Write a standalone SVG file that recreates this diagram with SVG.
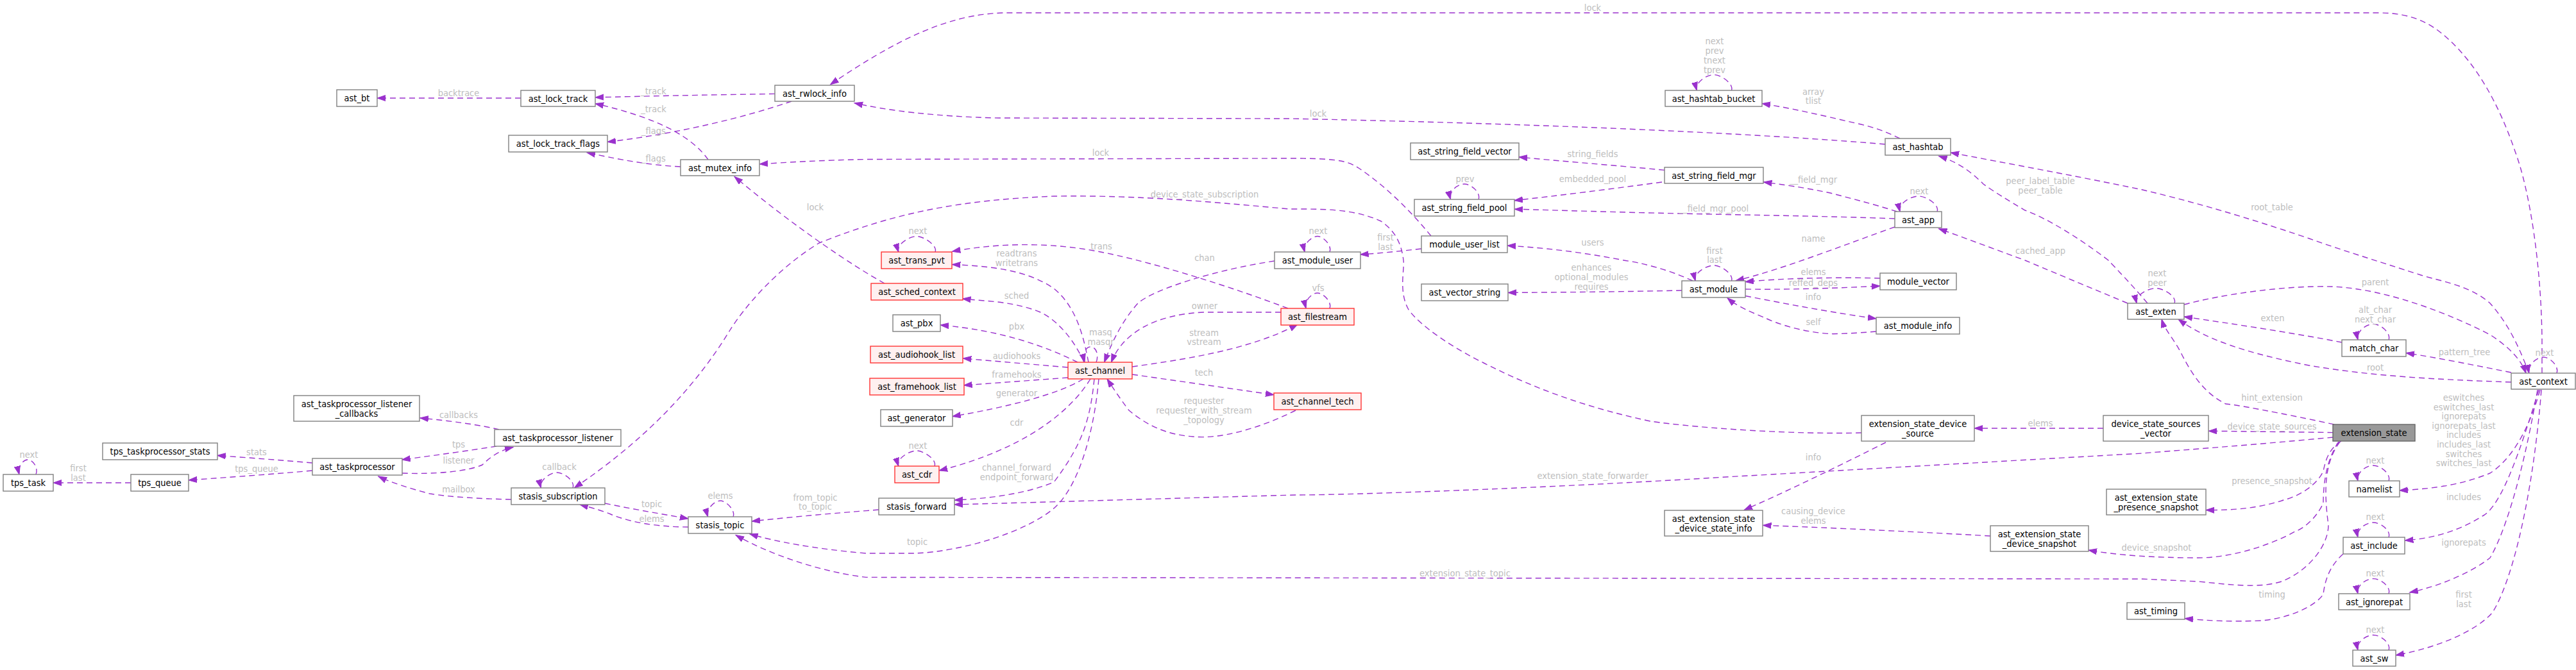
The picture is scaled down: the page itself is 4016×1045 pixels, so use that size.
<svg xmlns="http://www.w3.org/2000/svg" width="4016" height="1045" viewBox="0 0 4016 1045">
<defs>
<style>
rect.n{fill:#ffffff;stroke:#808080;stroke-width:1.4}
rect.r{fill:#fff0f0;stroke:#ff3333;stroke-width:1.4}
rect.g{fill:#999999;stroke:#666666;stroke-width:1.4}
text{font-family:"DejaVu Sans Condensed","DejaVu Sans",sans-serif;font-stretch:condensed;font-size:14.5px;text-anchor:middle}
text.t{fill:#000000}
text.l{fill:#bdbdbd}
#edges path{fill:none;stroke:#9a32cd;stroke-width:1.4;stroke-dasharray:9,6;marker-end:url(#a)}
</style>
<marker id="a" markerWidth="15" markerHeight="11" refX="13" refY="5" orient="auto" markerUnits="userSpaceOnUse"><path d="M0,0.5 L13,5 L0,9.5 z" fill="#9a32cd" stroke="#9a32cd" stroke-width="1" stroke-dasharray="none"/></marker>
</defs>
<rect width="4016" height="1045" fill="#ffffff"/>
<g id="edges">
<path d="M812,153 L588,153"/>
<path d="M1208,146.4 C1100,148 1000,150 928,152"/>
<path d="M1104,249 C1080,215 1030,185 928,161.6"/>
<path d="M1234,158 C1160,183 1060,208 947,221.4"/>
<path d="M1061,260 C1020,258 980,252 915,238"/>
<path d="M3963,582 L3963,530 C3962,420 3945,300 3921,236 C3895,160 3860,100 3817,61 C3790,36 3760,20 3708,20 L1565,20 C1480,22 1400,60 1294.5,131.8"/>
<path d="M2939,225 C2800,213 2500,195 2010,185 L1557,184 C1460,182 1380,172 1332,160.6"/>
<path d="M2231,368 C2200,330 2160,290 2118,262 C2100,250 2080,247 2010,247 L1350,248.5 C1280,250 1230,253 1184,256"/>
<path d="M1379,442 C1330,415 1240,355 1145,275.5"/>
<path d="M2902,675 C2800,678 2650,668 2573,657 C2480,637 2400,610 2313,566 C2270,545 2215,510 2196,483 C2180,455 2190,420 2188,406 C2185,380 2175,360 2153,345 C2110,325 2060,326 2010,326 C1900,316 1780,304 1643,306 C1500,312 1400,330 1277,379 C1210,420 1160,480 1138,515 C1080,610 1000,690 895.5,760.8"/>
<path d="M2008,481 C1900,440 1780,405 1716,393 C1640,378 1560,378 1484.4,392.2"/>
<path d="M1697,565 C1690,530 1680,480 1643,450 C1600,420 1540,415 1484.4,412.5"/>
<path d="M1690,565 C1670,520 1640,495 1622,487 C1580,470 1540,470 1500.5,466"/>
<path d="M1680,565 C1630,540 1560,515 1466,507"/>
<path d="M1665,573 L1501.3,559"/>
<path d="M1665,589 L1502.6,601"/>
<path d="M1689,591 C1650,615 1570,635 1484.8,649.5"/>
<path d="M1700,591 C1670,640 1600,700 1464,734"/>
<path d="M1706,591 C1700,650 1690,690 1643,752 C1600,770 1540,778 1488,780"/>
<path d="M1713,591 C1705,680 1680,760 1644,792 C1600,830 1500,860 1427,863 L1350,863 C1270,856 1210,845 1168.7,832.8"/>
<path d="M1987,407 C1900,420 1800,450 1774,473 C1750,500 1735,530 1721.6,565"/>
<path d="M1997,487 L1878,487 C1800,490 1750,520 1732.5,565"/>
<path d="M1765,572 C1850,560 1950,545 2023,506"/>
<path d="M1765,584 L1986,615.7"/>
<path d="M2020,640 C1960,670 1900,685 1860,681 C1820,678 1790,665 1760,640 C1745,620 1735,605 1726,591"/>
<path d="M1709,565 C1713,555 1710,541 1700,541 C1692,541 1688,553 1691,565"/>
<path d="M487,722 C440,718 390,714 338.7,710.4"/>
<path d="M487,734 C420,740 360,744 294,749"/>
<path d="M204,753 L83,753"/>
<path d="M778,670 C750,663 700,656 654.8,652"/>
<path d="M774,696 C730,703 680,710 626.6,717"/>
<path d="M626.6,738 C680,740 730,735 752,725 C765,712 780,702 800,697.6"/>
<path d="M797,779 C750,778 700,775 670,770 C640,762 610,753 589.8,743"/>
<path d="M943,785 C990,795 1040,803 1073,809"/>
<path d="M1073,822 C1040,822 990,818 952,802 C935,795 915,790 904,787"/>
<path d="M1370,795 L1350,796.6 C1280,802 1220,808 1172,813"/>
<path d="M3648,689 C3625,720 3622,760 3630,819 C3630,850 3600,890 3557,907 C3520,918 3480,912 3427,907 L3340,903 L1350,900.4 C1280,892 1200,865 1147,834.5"/>
<path d="M3637.5,682 C3500,695 3400,702 3340,707 L2690,744 C2400,762 2100,772 2020,772 C1800,778 1600,784 1488,787"/>
<path d="M3639,662 C3560,645 3480,630 3470,630 C3440,615 3420,590 3400,550 C3390,530 3375,515 3370,498"/>
<path d="M3915,596 C3800,592 3700,587 3600,570 C3500,550 3440,530 3396,498"/>
<path d="M3405,475 C3460,460 3560,445 3635,447 C3720,450 3820,490 3882,522 C3910,540 3930,560 3938,582"/>
<path d="M3651,534 C3580,520 3480,505 3405,494"/>
<path d="M3915,581 C3860,570 3800,558 3751,550.5"/>
<path d="M3943,582 C3930,550 3915,510 3882,473 C3850,445 3810,440 3774,429 C3700,405 3650,390 3600,372 C3500,338 3420,315 3340,296 C3240,275 3130,255 3041,238"/>
<path d="M3348,473 C3320,440 3300,420 3287,406 C3240,370 3190,340 3157,328 C3130,312 3110,300 3092,287 C3070,265 3050,252 3022.6,243.4"/>
<path d="M3317,473 C3250,445 3190,420 3157,406 C3100,385 3060,370 3022.6,356.7"/>
<path d="M2962,216 C2940,205 2920,198 2897,193 C2840,180 2800,170 2747,161.6"/>
<path d="M2957.5,330 C2920,318 2880,308 2853.5,301 C2810,292 2780,288 2749.4,284"/>
<path d="M2954,341 C2850,337 2700,335 2617,333 C2520,331 2430,328 2361.3,326.2"/>
<path d="M2595,265.4 C2520,258 2440,252 2368,245"/>
<path d="M2591,284 C2510,295 2430,305 2361,312.7"/>
<path d="M2954,354 C2880,380 2780,420 2706,437.8"/>
<path d="M2931,434 C2860,432 2780,434 2721,439.5"/>
<path d="M2721,451 C2800,452 2870,449 2931,446"/>
<path d="M2721,461.5 C2790,475 2860,488 2925,497"/>
<path d="M2925,517 C2890,520 2860,521 2853.5,520.6 C2810,518 2770,505 2750,495 C2720,483 2705,475 2693,464.8"/>
<path d="M2639,438 C2600,420 2560,410 2530,405.7 C2460,392 2400,386 2350,383"/>
<path d="M2622,453 C2530,455 2430,456 2351,456.4"/>
<path d="M2216,388 C2180,392 2150,395 2120.6,397"/>
<path d="M3279,668 L3078,668"/>
<path d="M2940,690 C2880,720 2800,760 2719,795.6"/>
<path d="M3103,836 C3000,830 2850,823 2748.5,819.3"/>
<path d="M3646,689 C3625,720 3622,760 3622,785 C3610,810 3590,825 3578,829 C3540,850 3480,870 3427,870 C3360,870 3300,866 3256,858"/>
<path d="M3637.5,674.6 L3443.2,672.2"/>
<path d="M3650,688 C3630,700 3625,720 3622,735 C3610,760 3580,775 3560,780 C3520,793 3480,796 3439,795.6"/>
<path d="M3653,864 C3635,880 3625,900 3622,927 C3610,945 3570,964 3526,968 C3480,970 3440,968 3406,964.6"/>
<path d="M3960,608 C3940,680 3910,720 3882,738 C3840,755 3800,762 3740.7,765"/>
<path d="M3958,608 C3930,700 3900,790 3870,805 C3830,830 3790,840 3749.4,843"/>
<path d="M3956,608 C3930,760 3900,840 3882,870 C3850,895 3800,915 3756.7,924"/>
<path d="M3962,608 C3950,760 3920,900 3886,955 C3860,985 3800,1010 3735,1022"/>
<path d="M56,740 C60,730 52,717 43,717 C36,717 27,728 30,740"/>
<path d="M893,761 C897,751 880,737 868,737 C858,737 840,749 843.5,761"/>
<path d="M1143,806 C1147,796 1132,781 1123,781 C1114,781 1100,794 1103.6,806"/>
<path d="M1458,393 C1462,383 1440,368.5 1429,368.5 C1418,368.5 1397,381 1400.7,393"/>
<path d="M1457,727 C1461,717 1440,703 1429,703 C1418,703 1397,715 1400.7,727"/>
<path d="M2073,393 C2077,383 2063,368.5 2054,368.5 C2045,368.5 2031,381 2034,393"/>
<path d="M2073,481 C2077,471 2063,457 2054,457 C2045,457 2033,469 2036,481"/>
<path d="M2305,311 C2309,301 2294,287 2283,287 C2272,287 2258,299 2261.5,311"/>
<path d="M2699.5,141 C2703,131 2684,116.6 2672,116.6 C2660,116.6 2642,129 2645.3,141"/>
<path d="M2699.5,438 C2703,428 2684,414 2672,414 C2660,414 2640,426 2643,438"/>
<path d="M3020,330 C3024,320 3004,306 2991,306 C2978,306 2959,318 2962,330"/>
<path d="M3390,473 C3394,463 3374,449.6 3361,449.6 C3348,449.6 3328,461 3331,473"/>
<path d="M3724,530 C3728,520 3712,505.4 3700,505.4 C3688,505.4 3673,518 3676,530"/>
<path d="M3986,582 C3990,572 3976,557 3965,557 C3954,557 3940,570 3942.8,582"/>
<path d="M3724,750 C3728,740 3712,726 3700,726 C3688,726 3673,738 3676,750"/>
<path d="M3724,838 C3728,828 3712,815 3700,815 C3688,815 3673,826 3676,838"/>
<path d="M3724,926 C3728,916 3712,902.6 3700,902.6 C3688,902.6 3673,914 3676,926"/>
<path d="M3724,1014 C3728,1004 3712,990.5 3700,990.5 C3688,990.5 3673,1002 3676,1014"/>
</g>
<g id="labels">
<text class="l" x="715" y="150">backtrace</text>
<text class="l" x="1019" y="147">_track</text>
<text class="l" x="1019" y="175">_track</text>
<text class="l" x="1019" y="209">_flags</text>
<text class="l" x="1019" y="252">_flags</text>
<text class="l" x="1271" y="328">lock</text>
<text class="l" x="715" y="652">callbacks</text>
<text class="l" x="715" y="698">tps</text>
<text class="l" x="715" y="723">listener</text>
<text class="l" x="715" y="768">mailbox</text>
<text class="l" x="872" y="733">callback</text>
<text class="l" x="1016" y="791">topic</text>
<text class="l" x="1016" y="814">elems</text>
<text class="l" x="1123" y="778">elems</text>
<text class="l" x="1271" y="781">from_topic</text>
<text class="l" x="1271" y="795">to_topic</text>
<text class="l" x="45" y="714">next</text>
<text class="l" x="122" y="735">first</text>
<text class="l" x="122" y="750">last</text>
<text class="l" x="400" y="710">stats</text>
<text class="l" x="400" y="736">tps_queue</text>
<text class="l" x="1716" y="243">lock</text>
<text class="l" x="1878" y="308">device_state_subscription</text>
<text class="l" x="1431" y="365">next</text>
<text class="l" x="1717" y="389">trans</text>
<text class="l" x="1585" y="400">readtrans</text>
<text class="l" x="1585" y="415">writetrans</text>
<text class="l" x="1878" y="407">chan</text>
<text class="l" x="1585" y="466">sched</text>
<text class="l" x="1878" y="482">owner</text>
<text class="l" x="1585" y="514">pbx</text>
<text class="l" x="1716" y="523">masq</text>
<text class="l" x="1716" y="538">masqr</text>
<text class="l" x="1877" y="524">stream</text>
<text class="l" x="1877" y="538">vstream</text>
<text class="l" x="1585" y="560">audiohooks</text>
<text class="l" x="1585" y="589">framehooks</text>
<text class="l" x="1877" y="586">tech</text>
<text class="l" x="1585" y="618">generator</text>
<text class="l" x="1877" y="630">requester</text>
<text class="l" x="1877" y="645">requester_with_stream</text>
<text class="l" x="1877" y="660">_topology</text>
<text class="l" x="1585" y="664">cdr</text>
<text class="l" x="1431" y="700">next</text>
<text class="l" x="1585" y="734">channel_forward</text>
<text class="l" x="1585" y="749">endpoint_forward</text>
<text class="l" x="1430" y="850">topic</text>
<text class="l" x="2483" y="17">lock</text>
<text class="l" x="2673" y="69">next</text>
<text class="l" x="2673" y="84">prev</text>
<text class="l" x="2673" y="99">tnext</text>
<text class="l" x="2673" y="114">tprev</text>
<text class="l" x="2055" y="182">lock</text>
<text class="l" x="2483" y="245">string_fields</text>
<text class="l" x="2284" y="284">prev</text>
<text class="l" x="2483" y="284">embedded_pool</text>
<text class="l" x="2672" y="330">__field_mgr_pool</text>
<text class="l" x="2055" y="365">next</text>
<text class="l" x="2160" y="375">first</text>
<text class="l" x="2160" y="390">last</text>
<text class="l" x="2483" y="383">users</text>
<text class="l" x="2673" y="396">first</text>
<text class="l" x="2673" y="410">last</text>
<text class="l" x="2481" y="422">enhances</text>
<text class="l" x="2481" y="437">optional_modules</text>
<text class="l" x="2481" y="452">requires</text>
<text class="l" x="2055" y="454">vfs</text>
<text class="l" x="2483" y="747">extension_state_forwarder</text>
<text class="l" x="2284" y="899">extension_state_topic</text>
<text class="l" x="2827" y="148">array</text>
<text class="l" x="2827" y="162">tlist</text>
<text class="l" x="2827" y="285">__field_mgr</text>
<text class="l" x="2992" y="303">next</text>
<text class="l" x="3181" y="287">peer_label_table</text>
<text class="l" x="3181" y="302">peer_table</text>
<text class="l" x="2827" y="377">name</text>
<text class="l" x="3181" y="396">cached_app</text>
<text class="l" x="2827" y="429">elems</text>
<text class="l" x="2827" y="446">reffed_deps</text>
<text class="l" x="2827" y="468">info</text>
<text class="l" x="2827" y="507">self</text>
<text class="l" x="3181" y="665">elems</text>
<text class="l" x="2827" y="718">info</text>
<text class="l" x="2827" y="802">causing_device</text>
<text class="l" x="2827" y="817">elems</text>
<text class="l" x="3362" y="859">device_snapshot</text>
<text class="l" x="3542" y="328">root_table</text>
<text class="l" x="3363" y="431">next</text>
<text class="l" x="3363" y="446">peer</text>
<text class="l" x="3703" y="445">parent</text>
<text class="l" x="3543" y="501">exten</text>
<text class="l" x="3703" y="488">alt_char</text>
<text class="l" x="3703" y="503">next_char</text>
<text class="l" x="3842" y="554">pattern_tree</text>
<text class="l" x="3967" y="555">next</text>
<text class="l" x="3703" y="578">root</text>
<text class="l" x="3542" y="625">hint_extension</text>
<text class="l" x="3542" y="670">device_state_sources</text>
<text class="l" x="3841" y="625">eswitches</text>
<text class="l" x="3841" y="640">eswitches_last</text>
<text class="l" x="3841" y="654">ignorepats</text>
<text class="l" x="3841" y="669">ignorepats_last</text>
<text class="l" x="3841" y="683">includes</text>
<text class="l" x="3841" y="698">includes_last</text>
<text class="l" x="3841" y="713">switches</text>
<text class="l" x="3841" y="727">switches_last</text>
<text class="l" x="3703" y="723">next</text>
<text class="l" x="3542" y="755">presence_snapshot</text>
<text class="l" x="3841" y="780">includes</text>
<text class="l" x="3703" y="811">next</text>
<text class="l" x="3841" y="851">ignorepats</text>
<text class="l" x="3703" y="899">next</text>
<text class="l" x="3542" y="932">timing</text>
<text class="l" x="3841" y="932">first</text>
<text class="l" x="3841" y="947">last</text>
<text class="l" x="3703" y="987">next</text>
</g>
<g id="node-ast_bt"><rect class="n" x="525" y="140" width="63" height="26"/><text class="t" x="556.5" y="158">ast_bt</text></g>
<g id="node-ast_lock_track"><rect class="n" x="812" y="141" width="116" height="25"/><text class="t" x="870" y="158.5">ast_lock_track</text></g>
<g id="node-ast_rwlock_info"><rect class="n" x="1208" y="133" width="124" height="25"/><text class="t" x="1270" y="150.5">ast_rwlock_info</text></g>
<g id="node-ast_lock_track_flags"><rect class="n" x="793" y="211" width="154" height="26"/><text class="t" x="870" y="229">ast_lock_track_flags</text></g>
<g id="node-ast_mutex_info"><rect class="n" x="1061" y="249" width="123" height="25"/><text class="t" x="1122.5" y="266.5">ast_mutex_info</text></g>
<g id="node-ast_taskprocessor_listener_callbacks"><rect class="n" x="458" y="617" width="196" height="40"/><text class="t" x="556" y="634.5">ast_taskprocessor_listener</text><text class="t" x="556" y="649.5">_callbacks</text></g>
<g id="node-tps_taskprocessor_stats"><rect class="n" x="160" y="691" width="179" height="26"/><text class="t" x="249.5" y="709">tps_taskprocessor_stats</text></g>
<g id="node-ast_taskprocessor"><rect class="n" x="487" y="715" width="140" height="26"/><text class="t" x="557" y="733">ast_taskprocessor</text></g>
<g id="node-tps_task"><rect class="n" x="5" y="740" width="78" height="26"/><text class="t" x="44" y="758">tps_task</text></g>
<g id="node-tps_queue"><rect class="n" x="204" y="740" width="90" height="26"/><text class="t" x="249" y="758">tps_queue</text></g>
<g id="node-ast_taskprocessor_listener"><rect class="n" x="771" y="670" width="197" height="26"/><text class="t" x="869.5" y="688">ast_taskprocessor_listener</text></g>
<g id="node-stasis_subscription"><rect class="n" x="797" y="761" width="146" height="26"/><text class="t" x="870" y="779">stasis_subscription</text></g>
<g id="node-stasis_topic"><rect class="n" x="1073" y="806" width="99" height="26"/><text class="t" x="1122.5" y="824">stasis_topic</text></g>
<g id="node-ast_trans_pvt"><rect class="r" x="1374" y="393" width="110" height="26"/><text class="t" x="1429" y="411">ast_trans_pvt</text></g>
<g id="node-ast_sched_context"><rect class="r" x="1358" y="442" width="143" height="26"/><text class="t" x="1429.5" y="460">ast_sched_context</text></g>
<g id="node-ast_pbx"><rect class="n" x="1392" y="491" width="74" height="26"/><text class="t" x="1429" y="509">ast_pbx</text></g>
<g id="node-ast_audiohook_list"><rect class="r" x="1357" y="540" width="144" height="26"/><text class="t" x="1429" y="558">ast_audiohook_list</text></g>
<g id="node-ast_framehook_list"><rect class="r" x="1356" y="590" width="147" height="26"/><text class="t" x="1429.5" y="608">ast_framehook_list</text></g>
<g id="node-ast_generator"><rect class="n" x="1373" y="639" width="112" height="26"/><text class="t" x="1429" y="657">ast_generator</text></g>
<g id="node-ast_cdr"><rect class="r" x="1395" y="727" width="69" height="26"/><text class="t" x="1429.5" y="745">ast_cdr</text></g>
<g id="node-stasis_forward"><rect class="n" x="1370" y="777" width="118" height="26"/><text class="t" x="1429" y="795">stasis_forward</text></g>
<g id="node-ast_channel"><rect class="r" x="1665" y="565" width="100" height="26"/><text class="t" x="1715" y="583">ast_channel</text></g>
<g id="node-ast_channel_tech"><rect class="r" x="1986" y="613" width="136" height="26"/><text class="t" x="2054" y="631">ast_channel_tech</text></g>
<g id="node-ast_filestream"><rect class="r" x="1997" y="481" width="114" height="26"/><text class="t" x="2054" y="499">ast_filestream</text></g>
<g id="node-ast_module_user"><rect class="n" x="1987" y="393" width="134" height="26"/><text class="t" x="2054" y="411">ast_module_user</text></g>
<g id="node-ast_string_field_vector"><rect class="n" x="2199" y="223" width="169" height="26"/><text class="t" x="2283.5" y="241">ast_string_field_vector</text></g>
<g id="node-ast_string_field_pool"><rect class="n" x="2205" y="311" width="156" height="26"/><text class="t" x="2283" y="329">ast_string_field_pool</text></g>
<g id="node-module_user_list"><rect class="n" x="2216" y="368" width="134" height="26"/><text class="t" x="2283" y="386">module_user_list</text></g>
<g id="node-ast_vector_string"><rect class="n" x="2216" y="443" width="135" height="26"/><text class="t" x="2283.5" y="461">ast_vector_string</text></g>
<g id="node-ast_hashtab_bucket"><rect class="n" x="2596" y="141" width="151" height="25"/><text class="t" x="2671.5" y="158.5">ast_hashtab_bucket</text></g>
<g id="node-ast_string_field_mgr"><rect class="n" x="2595" y="261" width="154" height="25"/><text class="t" x="2672" y="278.5">ast_string_field_mgr</text></g>
<g id="node-ast_module"><rect class="n" x="2622" y="438" width="99" height="26"/><text class="t" x="2671.5" y="456">ast_module</text></g>
<g id="node-ast_extension_state_device_state_info"><rect class="n" x="2595" y="796" width="153" height="40"/><text class="t" x="2671.5" y="813.5">ast_extension_state</text><text class="t" x="2671.5" y="828.5">_device_state_info</text></g>
<g id="node-ast_hashtab"><rect class="n" x="2939" y="216" width="102" height="26"/><text class="t" x="2990" y="234">ast_hashtab</text></g>
<g id="node-ast_app"><rect class="n" x="2954" y="330" width="73" height="25"/><text class="t" x="2990.5" y="347.5">ast_app</text></g>
<g id="node-module_vector"><rect class="n" x="2931" y="426" width="119" height="26"/><text class="t" x="2990.5" y="444">module_vector</text></g>
<g id="node-ast_module_info"><rect class="n" x="2925" y="495" width="130" height="26"/><text class="t" x="2990" y="513">ast_module_info</text></g>
<g id="node-extension_state_device_source"><rect class="n" x="2902" y="648" width="176" height="40"/><text class="t" x="2990" y="665.5">extension_state_device</text><text class="t" x="2990" y="680.5">_source</text></g>
<g id="node-ast_extension_state_device_snapshot"><rect class="n" x="3103" y="820" width="153" height="40"/><text class="t" x="3179.5" y="837.5">ast_extension_state</text><text class="t" x="3179.5" y="852.5">_device_snapshot</text></g>
<g id="node-ast_exten"><rect class="n" x="3317" y="473" width="88" height="25"/><text class="t" x="3361" y="490.5">ast_exten</text></g>
<g id="node-device_state_sources_vector"><rect class="n" x="3279" y="648" width="164" height="40"/><text class="t" x="3361" y="665.5">device_state_sources</text><text class="t" x="3361" y="680.5">_vector</text></g>
<g id="node-ast_extension_state_presence_snapshot"><rect class="n" x="3284" y="763" width="155" height="40"/><text class="t" x="3361.5" y="780.5">ast_extension_state</text><text class="t" x="3361.5" y="795.5">_presence_snapshot</text></g>
<g id="node-ast_timing"><rect class="n" x="3316" y="940" width="90" height="26"/><text class="t" x="3361" y="958">ast_timing</text></g>
<g id="node-match_char"><rect class="n" x="3651" y="530" width="100" height="26"/><text class="t" x="3701" y="548">match_char</text></g>
<g id="node-extension_state"><rect class="g" x="3637" y="662" width="128" height="26"/><text class="t" x="3701" y="680">extension_state</text></g>
<g id="node-namelist"><rect class="n" x="3662" y="750" width="79" height="25"/><text class="t" x="3701.5" y="767.5">namelist</text></g>
<g id="node-ast_include"><rect class="n" x="3653" y="838" width="96" height="26"/><text class="t" x="3701" y="856">ast_include</text></g>
<g id="node-ast_ignorepat"><rect class="n" x="3646" y="926" width="111" height="25"/><text class="t" x="3701.5" y="943.5">ast_ignorepat</text></g>
<g id="node-ast_sw"><rect class="n" x="3668" y="1014" width="67" height="25"/><text class="t" x="3701.5" y="1031.5">ast_sw</text></g>
<g id="node-ast_context"><rect class="n" x="3915" y="582" width="100" height="25"/><text class="t" x="3965" y="599.5">ast_context</text></g>
</svg>
